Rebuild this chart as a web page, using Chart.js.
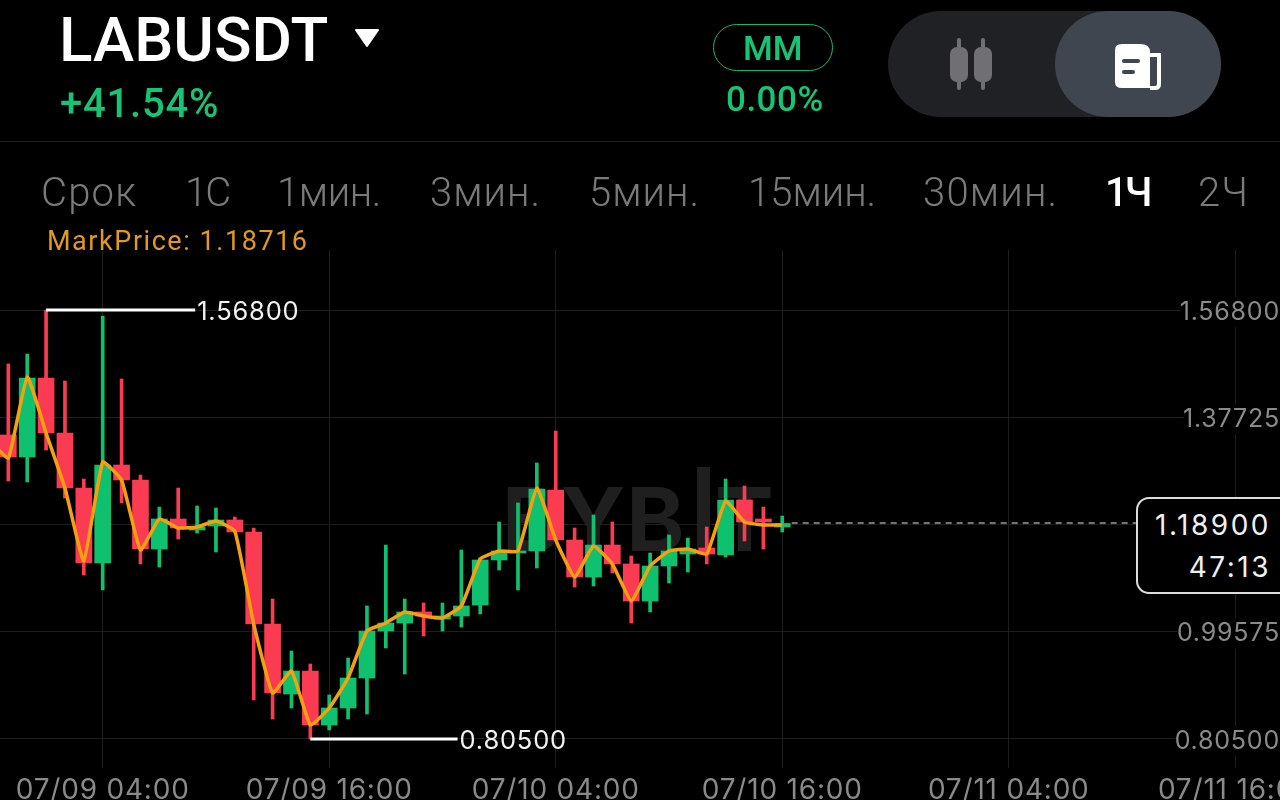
<!DOCTYPE html>
<html>
<head>
<meta charset="utf-8">
<title>LABUSDT</title>
<script src="https://cdn.jsdelivr.net/npm/chart.js@4"></script>
<style>
html, body { margin: 0; background: #000; width: 1280px; height: 800px; overflow: hidden; }
#chart { position: absolute; left: 0; top: 0; }
.t { position: absolute; font-family: Roboto, sans-serif; white-space: nowrap; line-height: 1; }
.tab { top: 173px; font-size: 40px; font-weight: 300; color: #7a7a7a; }
#sep { position: absolute; left: 0; top: 141px; width: 1280px; height: 1px; background: #1c1c1c; }
#pill { position: absolute; left: 713px; top: 24px; width: 118px; height: 45px; border: 1.5px solid #14b870; border-radius: 24px; }
#toggle { position: absolute; left: 888px; top: 11px; width: 333px; height: 106px; border-radius: 53px; background: #1f2125; }
#active { position: absolute; left: 1055px; top: 11px; width: 166px; height: 106px; border-radius: 53px; background: #3f4650; }
#box { position: absolute; left: 1136px; top: 497px; width: 170px; height: 93px; border: 2px solid #dcdcdc; border-radius: 13px; background: #000; }
.box { font-family: Inter, sans-serif; font-size: 28px; color: #f0f0f0; letter-spacing: 2.5px; right: 9px; }
</style>
</head>
<body>
<canvas id="chart" width="1280" height="800"></canvas>
<div id="sep"></div>
<div class="t" style="left:59px;top:9px;font-size:62px;font-weight:500;color:#fff">LABUSDT</div>
<svg style="position:absolute;left:354px;top:28px" width="26" height="20"><path d="M2 2 H24 L13 18 Z" fill="#fff" stroke="#fff" stroke-width="2" stroke-linejoin="round"/></svg>
<div class="t" style="left:60px;top:84px;font-size:40px;font-weight:500;color:#14c477;letter-spacing:0.8px">+41.54%</div>
<div id="pill"></div>
<div class="t" style="left:743px;top:31px;font-size:34px;font-weight:500;color:#14c477">MM</div>
<div class="t" style="left:726px;top:82px;font-size:35px;font-weight:500;color:#14c477;letter-spacing:0.5px">0.00%</div>
<div id="toggle"></div>
<div id="active"></div>
<svg style="position:absolute;left:948px;top:36px" width="46" height="56">
  <g fill="#707074"><rect x="9" y="2" width="4" height="52" rx="2"/><rect x="2" y="11" width="18" height="35" rx="7"/><rect x="33" y="2" width="4" height="52" rx="2"/><rect x="26" y="11" width="18" height="35" rx="7"/></g>
</svg>
<svg style="position:absolute;left:1112px;top:42px" width="52" height="48">
  <path d="M10 2 H28 Q38 2 38 10 V46 H10 Q3 46 3 40 V8 Q3 2 10 2 Z" fill="#fff"/>
  <path d="M38 13 H47 V42 Q47 46 43 46 H38" fill="none" stroke="#fff" stroke-width="4"/>
  <rect x="10" y="17" width="18" height="4" rx="2" fill="#3f4650"/><rect x="10" y="28" width="13" height="4" rx="2" fill="#3f4650"/>
</svg>
<div class="t tab" style="left:41px;letter-spacing:1.2px">Срок</div>
<div class="t tab" style="left:185px;letter-spacing:-2px">1С</div>
<div class="t tab" style="left:277px;letter-spacing:-0.4px">1мин.</div>
<div class="t tab" style="left:430px;letter-spacing:1px">3мин.</div>
<div class="t tab" style="left:589px;letter-spacing:1px">5мин.</div>
<div class="t tab" style="left:748px">15мин.</div>
<div class="t tab" style="left:923px;letter-spacing:1.2px">30мин.</div>
<div class="t tab" style="left:1105px;color:#fff;font-weight:500;letter-spacing:-3px">1Ч</div>
<div class="t tab" style="left:1198px;letter-spacing:1px">2Ч</div>
<div class="t" style="left:47px;top:228px;font-size:27px;color:#e39a1c;letter-spacing:1.55px">MarkPrice: 1.18716</div>
<div id="box"></div>
<div class="t box" style="top:511px">1.18900</div>
<div class="t box" style="top:553px">47:13</div>

<script>
// hours counted from 07/09 04:00, one candle per hour
const candleHours = [-5, -4, -3, -2, -1, 0, 1, 2, 3, 4, 5, 6, 7, 8, 9, 10, 11, 12, 13, 14, 15, 16, 17, 18, 19, 20, 21, 22, 23, 24, 25, 26, 27, 28, 29, 30, 31, 32, 33, 34, 35, 36];
const opens = [1.3457, 1.3066, 1.4471, 1.3493, 1.2514, 1.1180, 1.2923, 1.2657, 1.1429, 1.1963, 1.1767, 1.1838, 1.1945, 1.1732, 1.0095, 0.8850, 0.9259, 0.8299, 0.8601, 0.9135, 0.9971, 1.0113, 1.0309, 1.0184, 1.0238, 1.0433, 1.1234, 1.1358, 1.1394, 1.2479, 1.1589, 1.0931, 1.1500, 1.1163, 1.0504, 1.1127, 1.1340, 1.1447, 1.1323, 1.2301, 1.1963, 1.1821];
const closes = [1.3066, 1.4471, 1.3493, 1.2514, 1.1180, 1.2923, 1.2657, 1.1429, 1.1963, 1.1803, 1.1821, 1.1945, 1.1732, 1.0095, 0.8868, 0.9259, 0.8299, 0.8601, 0.9135, 0.9971, 1.0113, 1.0309, 1.0238, 1.0238, 1.0416, 1.1234, 1.1394, 1.1394, 1.2497, 1.1589, 1.0931, 1.1500, 1.1163, 1.0504, 1.1127, 1.1394, 1.1429, 1.1340, 1.2301, 1.1910, 1.1910, 1.1883];
const highs = [1.4720, 1.4898, 1.5680, 1.4417, 1.2674, 1.5573, 1.4453, 1.2745, 1.2176, 1.2514, 1.2194, 1.2159, 1.1998, 1.1803, 1.0540, 0.9615, 0.9384, 0.8833, 0.9491, 1.0416, 1.1500, 1.0540, 1.0469, 1.0469, 1.1412, 1.1269, 1.1910, 1.2248, 1.2959, 1.3528, 1.1803, 1.2034, 1.1910, 1.1305, 1.1358, 1.1678, 1.1625, 1.1821, 1.2674, 1.2550, 1.2176, 1.2016];
const lows = [1.2639, 1.2621, 1.3190, 1.2336, 1.0967, 1.0700, 1.2248, 1.1163, 1.1109, 1.1607, 1.1714, 1.1376, 1.1732, 0.8744, 0.8406, 0.8601, 0.8050, 0.8210, 0.8406, 0.8495, 0.9669, 0.9206, 0.9882, 0.9971, 1.0042, 1.0273, 1.1056, 1.0700, 1.1091, 1.1589, 1.0753, 1.0771, 1.1002, 1.0113, 1.0309, 1.0825, 1.1020, 1.1163, 1.1287, 1.1572, 1.1429, 1.1732];
const markHours = [-6].concat(candleHours);
const markPrices = [1.3368, 1.3048, 1.4489, 1.3493, 1.2514, 1.1216, 1.2977, 1.2657, 1.1412, 1.1963, 1.1803, 1.1821, 1.1927, 1.1749, 1.0095, 0.8868, 0.9259, 0.8299, 0.8601, 0.9135, 0.9971, 1.0113, 1.0309, 1.0238, 1.0202, 1.0416, 1.1251, 1.1394, 1.1394, 1.2514, 1.1589, 1.0931, 1.1483, 1.1163, 1.0504, 1.1127, 1.1394, 1.1429, 1.1340, 1.2283, 1.1910, 1.1856, 1.1856];

const priceTicks = [0.805, 0.99575, 1.1865, 1.37725, 1.568];
const priceLabels = ['0.80500', '0.99575', '', '1.37725', '1.56800'];
const timeTicks = [0, 12, 24, 36, 48, 60];
const timeLabels = ['07/09 04:00', '07/09 16:00', '07/10 04:00', '07/10 16:00', '07/11 04:00', '07/11 16:00'];

const highMark = { from: -3, to: 4.9, price: 1.568, label: '1.56800' };
const lowMark = { from: 11, to: 18.8, price: 0.805, label: '0.80500' };
const lastPrice = { from: 36.5, to: 54.8, price: 1.189 };

const GREEN = '#0fc16f';
const RED = '#fb3b52';

function candleColor(ctx) {
    return closes[ctx.dataIndex] >= opens[ctx.dataIndex] ? GREEN : RED;
}

const extraText = {
    id: 'extraText',
    beforeDraw(chart) {
        chart.ctx.letterSpacing = '0.8px';
    },
    beforeDatasetsDraw(chart) {
        // BYBIT watermark under the candles
        const ctx = chart.ctx;
        ctx.save();
        ctx.fillStyle = '#1f1f1f';
        ctx.font = '700 88px Inter, sans-serif';
        ctx.textBaseline = 'alphabetic';
        ctx.fillText('BYB', 502, 551);
        ctx.fillText('T', 715, 551);
        ctx.fillRect(697, 467, 13, 88);
        ctx.restore();
    },
    afterDatasetsDraw(chart) {
        const ctx = chart.ctx;
        const xs = chart.scales.x, ys = chart.scales.y;
        ctx.save();
        ctx.fillStyle = '#f2f2f2';
        ctx.font = '25.5px Inter, sans-serif';
        ctx.textBaseline = 'middle';
        [highMark, lowMark].forEach(m => {
            ctx.fillText(m.label, xs.getPixelForValue(m.to) + 2, ys.getPixelForValue(m.price) + 2);
        });
        ctx.restore();
    }
};

new Chart(document.getElementById('chart'), {
    type: 'bar',
    data: {
        datasets: [
            {
                label: 'wick',
                data: candleHours.map((h, i) => ({ x: h, y: [lows[i], highs[i]] })),
                backgroundColor: candleColor,
                barThickness: 3,
                grouped: false,
                order: 3
            },
            {
                label: 'body',
                data: candleHours.map((h, i) => ({ x: h, y: [opens[i], closes[i]] })),
                backgroundColor: candleColor,
                barThickness: 16,
                grouped: false,
                order: 2
            },
            {
                type: 'line',
                label: 'mark',
                data: markHours.map((h, i) => ({ x: h, y: markPrices[i] })),
                borderColor: '#f5a00f',
                borderWidth: 3.5,
                tension: 0.12,
                pointRadius: 0,
                order: 1
            },
            {
                type: 'line',
                label: 'high',
                data: [{ x: highMark.from, y: highMark.price }, { x: highMark.to, y: highMark.price }],
                borderColor: '#fff',
                borderWidth: 3,
                pointRadius: 0,
                order: 0
            },
            {
                type: 'line',
                label: 'low',
                data: [{ x: lowMark.from, y: lowMark.price }, { x: lowMark.to, y: lowMark.price }],
                borderColor: '#fff',
                borderWidth: 3,
                pointRadius: 0,
                order: 0
            },
            {
                type: 'line',
                label: 'last',
                data: [{ x: lastPrice.from, y: lastPrice.price }, { x: lastPrice.to, y: lastPrice.price }],
                borderColor: '#9a9a9a',
                borderWidth: 1.5,
                borderDash: [6, 5],
                pointRadius: 0,
                order: 0
            }
        ]
    },
    options: {
        responsive: false,
        animation: false,
        layout: { padding: { top: 250 } },
        plugins: { legend: { display: false }, tooltip: { enabled: false } },
        scales: {
            x: {
                type: 'linear',
                offset: false,
                min: -5.441,
                max: 62.37,
                grid: { offset: false, color: '#1e1e1e', lineWidth: 1, drawTicks: false },
                border: { display: false },
                afterBuildTicks: scale => { scale.ticks = timeTicks.map(v => ({ value: v })); },
                afterFit: scale => {
                    scale.height = 32;
                    scale.paddingLeft = 0;
                    scale.paddingRight = 0;
                },
                ticks: {
                    autoSkip: false,
                    maxRotation: 0,
                    padding: 6,
                    color: '#8a8a8a',
                    font: { family: 'Inter, sans-serif', size: 28 },
                    callback: value => timeLabels[timeTicks.indexOf(value)]
                }
            },
            y: {
                position: 'right',
                min: 0.75342,
                max: 1.67474,
                grid: { color: '#1e1e1e', lineWidth: 1, drawTicks: false },
                border: { display: false },
                afterBuildTicks: scale => { scale.ticks = priceTicks.map(v => ({ value: v })); },
                afterFit: scale => {
                    scale.width = 0;
                    scale.paddingTop = 0;
                    scale.paddingBottom = 0;
                },
                ticks: {
                    mirror: true,
                    padding: 0,
                    labelOffset: 2,
                    color: '#8a8a8a',
                    font: { family: 'Inter, sans-serif', size: 25 },
                    showLabelBackdrop: true,
                    backdropColor: '#000',
                    backdropPadding: { left: 5, right: 0, top: 0, bottom: 0 },
                    callback: value => priceLabels[priceTicks.indexOf(value)]
                }
            }
        }
    },
    plugins: [extraText]
});
</script>
</body>
</html>
